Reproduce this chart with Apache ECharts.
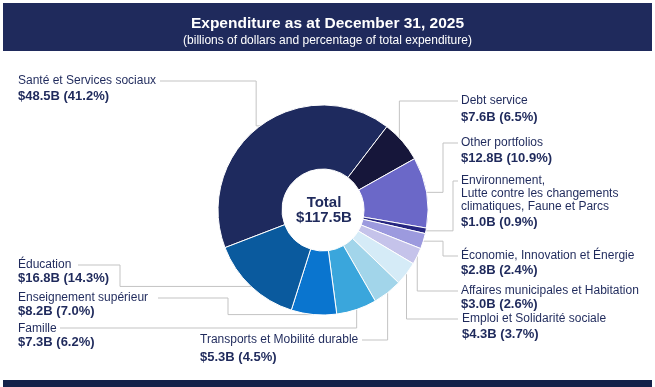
<!DOCTYPE html>
<html><head><meta charset="utf-8">
<script src="https://cdn.jsdelivr.net/npm/echarts@6/dist/echarts.min.js"></script>
<style>html,body{margin:0;padding:0;background:#fff}#c{width:655px;height:387px}</style>
</head><body><div id="c"></div>
<script>
// ---------- DATA ----------
const categories = [
  'Santé et Services sociaux',
  'Debt service',
  'Other portfolios',
  'Environnement,\nLutte contre les changements\nclimatiques, Faune et Parcs',
  'Économie, Innovation et Énergie',
  'Affaires municipales et Habitation',
  'Emploi et Solidarité sociale',
  'Transports et Mobilité durable',
  'Famille',
  'Enseignement supérieur',
  'Éducation'
];
const values = [48.5, 7.6, 12.8, 1.0, 2.8, 3.0, 4.3, 5.3, 7.3, 8.2, 16.8];
const percents = [41.2, 6.5, 10.9, 0.9, 2.4, 2.6, 3.7, 4.5, 6.2, 7.0, 14.3];
const totalValue = [117.5];

// ---------- STYLE / LAYOUT ----------
const colors = ['#1e2a5e', '#16163a', '#6b68c8', '#262680', '#9c9ade', '#c5c3ea',
                '#d5ebf7', '#a2d5ea', '#3aa6dc', '#0a75cf', '#0a5a9e'];
const navy = '#1f2a5c';
const FONT = "'Liberation Sans', Arial, sans-serif";
const CX = 323, CY = 210, R0 = 41, R1 = 105, START = 201;

// label block placement (left x, top y), value line height, leader route
const labelCfg = [
  {x: 18,  y: 74.5,  vlh: 17, route: e => [e, [e[0] - 4, e[1]], [e[0] - 4, 81], [160, 81]]},
  {x: 461, y: 94.5,  vlh: 19, route: e => [e, [e[0] - 3, e[1]], [e[0] - 3, 101], [458, 101]]},
  {x: 461, y: 136,   vlh: 19, route: e => [e, [443, e[1]], [443, 143], [458, 143]]},
  {x: 461, y: 174.5, vlh: 17, route: e => [e, [453, e[1]], [453, 181], [458, 181]]},
  {x: 461, y: 249.5, vlh: 15, route: e => [e, [443, e[1]], [443, 256], [458, 256]]},
  {x: 461, y: 284.5, vlh: 13, route: e => [e, [e[0], 291], [458, 291]]},
  {x: 462, y: 312.5, vlh: 17, route: e => [e, [e[0], 319], [458, 319]]},
  {x: 200, y: 333.5, vlh: 21, route: e => [e, [e[0], 340], [362, 340]]},
  {x: 18,  y: 322.5, vlh: 13, route: e => [e, [e[0], 328], [60, 328]]},
  {x: 18,  y: 291.5, vlh: 13, route: e => [e, [228, e[1]], [228, 298], [158, 298]]},
  {x: 18,  y: 258.5, vlh: 13, route: e => [e, [120, e[1]], [120, 265], [78, 265]]}
];

function edgePoint(i) {
  const sum = values.reduce((a, b) => a + b, 0);
  let acc = 0;
  for (let k = 0; k < i; k++) acc += values[k];
  const mid = START - (acc + values[i] / 2) / sum * 360;
  const a = mid * Math.PI / 180;
  return [CX + R1 * Math.cos(a), CY - R1 * Math.sin(a)];
}

const rich = {
  n: {fontFamily: FONT, fontSize: 12, color: navy, lineHeight: 13}
};
[13, 15, 17, 19, 21].forEach(h => {
  rich['v' + h] = {fontFamily: FONT, fontSize: 13, fontWeight: 'bold', color: navy, lineHeight: h};
});

const chart = echarts.init(document.getElementById('c'), null, {renderer: 'canvas'});
chart.setOption({
  animation: false,
  backgroundColor: '#fff',
  title: {
    text: 'Expenditure as at December 31, 2025',
    subtext: '(billions of dollars and percentage of total expenditure)',
    left: 'center', top: 10, itemGap: 1, z: 10,
    textStyle: {fontFamily: FONT, fontSize: 15.5, fontWeight: 'bold', color: '#fff', lineHeight: 18},
    subtextStyle: {fontFamily: FONT, fontSize: 12, color: '#fff', lineHeight: 14}
  },
  graphic: [
    {type: 'rect', z: 0, shape: {x: 3, y: 3, width: 649, height: 48}, style: {fill: '#1f2a5c'}},
    {type: 'rect', z: 0, shape: {x: 3, y: 380, width: 649, height: 7}, style: {fill: '#14224a'}},
    {type: 'text', z: 10, x: CX + 1, y: CY, style: {
      text: 'Total\n$' + totalValue[0].toFixed(1) + 'B', align: 'center', verticalAlign: 'middle',
      fontFamily: FONT, fontSize: 15, fontWeight: 'bold', fill: navy, lineHeight: 15}}
  ],
  series: [{
    type: 'pie',
    center: [CX, CY],
    radius: [R0, R1],
    startAngle: START,
    clockwise: true,
    avoidLabelOverlap: false,
    emphasis: {disabled: true},
    itemStyle: {borderColor: '#fff', borderWidth: 1},
    label: {
      show: true, position: 'outside',
      formatter: p => {
        const i = p.dataIndex;
        const nameLines = categories[i].split('\n').map(s => '{n|' + s + '}').join('\n');
        return nameLines + '\n{v' + labelCfg[i].vlh + '|$' + values[i].toFixed(1) + 'B (' + percents[i].toFixed(1) + '%)}';
      },
      rich: rich
    },
    labelLine: {show: true, length: 10, length2: 10, lineStyle: {color: '#c3c3c3', width: 1}},
    labelLayout: params => {
      const i = params.dataIndex;
      const cfg = labelCfg[i];
      let e = (params.labelLinePoints && params.labelLinePoints[0]) ?
        [params.labelLinePoints[0][0], params.labelLinePoints[0][1]] : edgePoint(i);
      return {x: cfg.x, y: cfg.y, align: 'left', verticalAlign: 'top', labelLinePoints: cfg.route(e)};
    },
    data: categories.map((c, i) => ({name: c, value: values[i], itemStyle: {color: colors[i]}}))
  }]
});
</script></body></html>
